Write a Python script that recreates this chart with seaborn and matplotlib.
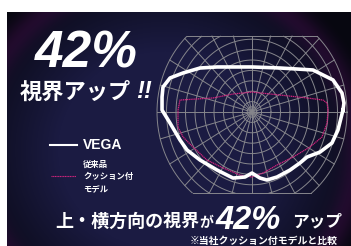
import numpy as np
import matplotlib
matplotlib.use("Agg")
import matplotlib.pyplot as plt
import seaborn as sns

# visual field outlines, degrees (x: right +, y: up +)
vega_x = [95.8, 96.8, 94.7, 85.3, 64.2, 29.5, 0.0, -36.8, -54.7, -72.6, -86.3, -93.7,
          -94.7, -94.7, -86.3, -75.8, -68.4, -54.7, -36.8, -20.0, -7.4, 0.0, 8.4,
          15.8, 26.3, 40.0, 50.5, 57.9, 71.6, 84.2, 90.5]
vega_y = [1.9, 8.7, 18.3, 30.8, 40.4, 42.3, 43.3, 43.3, 42.3, 37.5, 32.7, 24.0,
          14.4, 1.9, -10.6, -26.9, -36.5, -46.2, -55.8, -63.5, -62.5, -58.7, -63.5,
          -65.4, -62.5, -55.8, -49.0, -43.3, -38.5, -29.8, -17.3]
old_x = [80.0, 79.0, 74.7, 57.9, 29.5, 0.0, -20.0, -41.0, -75.8, -77.9, -77.9, -72.6,
         -62.1, -47.4, -30.5, -12.6, 0.0, 11.6, 26.3, 43.2, 61.0, 73.7, 79.0]
old_y = [1.9, 8.7, 11.5, 13.5, 16.3, 19.2, 17.3, 13.5, 11.5, 1.9, -14.4, -24.0,
         -33.7, -46.2, -53.8, -60.6, -62.5, -58.7, -51.0, -43.3, -33.7, -24.0, -10.6]

rings = [5, 10, 20, 30, 40, 50, 60, 70, 80, 90, 100]
meridians = np.arange(0, 360, 15)
y_top, y_bot = 73, -78

W, H = 351, 246
fig = plt.figure(figsize=(W / 100, H / 100), dpi=100)

# background
bg = fig.add_axes([0, 0, 1, 1])
yy, xx = np.mgrid[0:H, 0:W]
d = np.sqrt(((xx - 165) / 195) ** 2 + ((yy - 150) / 180) ** 2)
t = np.clip((d - 0.55) / 0.55, 0, 1)[..., None]
navy = np.array([27, 27, 66]) / 255
dark = np.array([7, 7, 16]) / 255
img = navy * (1 - t) + dark * t
glow = np.exp(-((d - 0.98) / 0.07) ** 2)[..., None]
img = np.clip(img + glow * np.array([22, 0, 18]) / 255, 0, 1)
img[:12, :] = 1
img[:, :7] = 1
bg.imshow(img, extent=(0, W, H, 0), aspect="auto")
bg.set_xlim(0, W)
bg.set_ylim(H, 0)
bg.axis("off")

# chart axes: 0.95 px/deg horizontally, 1.04 px/deg vertically, centre at (252,112)
cx, cy, sx, sy = 252, 112, 0.95, 1.04
xl, yl = (-102, 102), (-80, 75)
left = cx + xl[0] * sx
top = cy - yl[1] * sy
ax = fig.add_axes([left / W, 1 - (top + (yl[1] - yl[0]) * sy) / H,
                   (xl[1] - xl[0]) * sx / W, (yl[1] - yl[0]) * sy / H])
ax.set_xlim(*xl)
ax.set_ylim(*yl)
ax.axis("off")

gcol, glw = "#86868c", 0.7
th = np.linspace(0, 2 * np.pi, 721)
for r in rings:
    gx, gy = r * np.cos(th), r * np.sin(th)
    gy = np.where((gy > y_top) | (gy < y_bot), np.nan, gy)
    ax.plot(gx, gy, color=gcol, lw=glw)
for m in meridians:
    a = np.deg2rad(m)
    rend = 100.0
    if np.sin(a) > 1e-6:
        rend = min(rend, y_top / np.sin(a))
    elif np.sin(a) < -1e-6:
        rend = min(rend, y_bot / np.sin(a))
    ax.plot([0, rend * np.cos(a)], [0, rend * np.sin(a)], color=gcol, lw=glw)
for yc in (y_top, y_bot):
    hw = np.sqrt(100 ** 2 - yc ** 2)
    ax.plot([-hw, hw], [yc, yc], color=gcol, lw=glw)

sns.lineplot(x=old_x + old_x[:1], y=old_y + old_y[:1], sort=False, estimator=None,
             ax=ax, color="#d4247e", lw=0.9, linestyle=(0, (1, 0.5)))
sns.lineplot(x=vega_x + vega_x[:1], y=vega_y + vega_y[:1], sort=False, estimator=None,
             ax=ax, color="white", lw=2.6)


def fx(x):
    return x / W


def fy(y):
    return 1 - y / H


jp = ["Noto Sans CJK JP", "DejaVu Sans"]
lat = "Liberation Sans"

fig.text(fx(35), fy(67), "42%", family=lat, weight="bold", style="italic",
         size=37, color="white", va="baseline", ha="left")
fig.text(fx(20), fy(92), "視界アップ", family=jp, weight="bold", size=16,
         color="white", va="center", ha="left")
fig.text(fx(136), fy(92), "!!", family=lat, weight="bold", style="italic", size=17,
         color="white", va="center", ha="left")

# legend
bg.plot([50, 77], [145, 145], color="white", lw=1.5)
bg.plot([51, 76], [176, 176], color="#d4247e", lw=0.8, linestyle=(0, (1, 0.5)))
fig.text(fx(83), fy(145), "VEGA", family=lat, weight="bold", size=10,
         color="white", va="center", ha="left")
for ty, s in zip([164.5, 176.5, 188.5], ["従来品", "クッション付", "モデル"]):
    fig.text(fx(83), fy(ty), s, family=jp, weight="bold", size=6, color="white",
             va="center", ha="left")

# bottom caption
fig.text(fx(55), fy(221), "上・横方向の視界", family=jp, weight="bold", size=13,
         color="white", va="center", ha="left")
fig.text(fx(199), fy(223), "が", family=jp, weight="bold", size=10,
         color="white", va="center", ha="left")
fig.text(fx(216), fy(229), "42%", family=lat, weight="bold", style="italic",
         size=23.5, color="white", va="baseline", ha="left")
fig.text(fx(292), fy(221), "アップ", family=jp, weight="bold", size=12,
         color="white", va="center", ha="left")
fig.text(fx(190), fy(240.5), "※当社クッション付モデルと比較", family=jp, weight="bold",
         size=7.1, color="white", va="center", ha="left")

fig.savefig("out.png", dpi=100)
